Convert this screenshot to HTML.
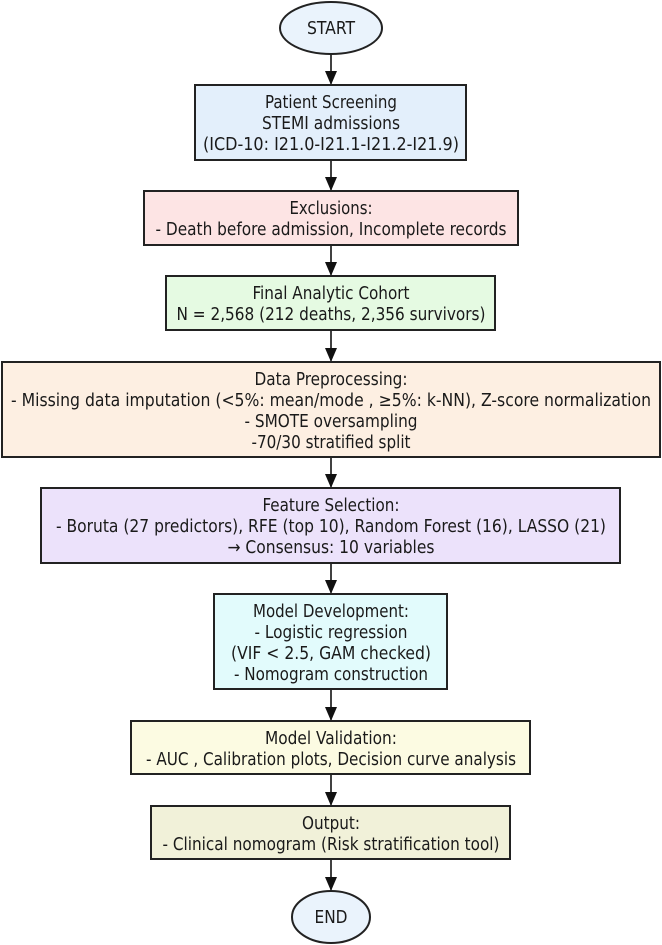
<!DOCTYPE html>
<html><head><meta charset="utf-8"><style>html,body{margin:0;padding:0;background:#fff}svg{display:block}</style></head>
<body>
<svg width="662" height="945" viewBox="0 0 662 945" xmlns="http://www.w3.org/2000/svg" font-family="'DejaVu Sans Condensed','DejaVu Sans','Liberation Sans',sans-serif" font-size="17.5" fill="#1a1a1a" text-anchor="middle">
<defs><marker id="a" markerWidth="12" markerHeight="14" refX="14" refY="6" orient="auto" markerUnits="userSpaceOnUse"><path d="M0,0 L14,6 L0,12 z" fill="#111"/></marker></defs>
<g stroke="#111" stroke-width="1.6">
<line x1="331" y1="54" x2="331" y2="85" marker-end="url(#a)"/>
<line x1="331" y1="160" x2="331" y2="191" marker-end="url(#a)"/>
<line x1="331" y1="245" x2="331" y2="276" marker-end="url(#a)"/>
<line x1="331" y1="330" x2="331" y2="362" marker-end="url(#a)"/>
<line x1="331" y1="457" x2="331" y2="488" marker-end="url(#a)"/>
<line x1="331" y1="563" x2="331" y2="594" marker-end="url(#a)"/>
<line x1="331" y1="689" x2="331" y2="721" marker-end="url(#a)"/>
<line x1="331" y1="774" x2="331" y2="806" marker-end="url(#a)"/>
<line x1="331" y1="859" x2="331" y2="891" marker-end="url(#a)"/>
</g>
<g stroke="#222" stroke-width="2">
<ellipse cx="331" cy="28" rx="51" ry="26" fill="#eaf3fc"/>
<rect x="195" y="85" width="271" height="75" fill="#e3effb"/>
<rect x="144" y="191" width="374" height="54" fill="#fde4e4"/>
<rect x="166" y="276" width="329" height="54" fill="#e5fae2"/>
<rect x="2" y="362" width="658" height="95" fill="#fdefe2"/>
<rect x="41" y="488" width="579" height="75" fill="#ece2fb"/>
<rect x="214" y="594" width="233" height="95" fill="#e2fbfc"/>
<rect x="131" y="721" width="399" height="53" fill="#fcfbe2"/>
<rect x="151" y="806" width="359" height="53" fill="#f1f1d9"/>
<ellipse cx="331" cy="917" rx="39" ry="26" fill="#eaf3fc"/>
</g>
<g>
<text x="331" y="34" textLength="48" lengthAdjust="spacingAndGlyphs">START</text>
<text x="331" y="108" textLength="132" lengthAdjust="spacingAndGlyphs">Patient Screening</text>
<text x="331" y="129" textLength="138" lengthAdjust="spacingAndGlyphs">STEMI admissions</text>
<text x="331" y="150" textLength="256" lengthAdjust="spacingAndGlyphs">(ICD-10: I21.0-I21.1-I21.2-I21.9)</text>
<text x="331" y="214" textLength="83" lengthAdjust="spacingAndGlyphs">Exclusions:</text>
<text x="331" y="235" textLength="351" lengthAdjust="spacingAndGlyphs">- Death before admission, Incomplete records</text>
<text x="331" y="299" textLength="157" lengthAdjust="spacingAndGlyphs">Final Analytic Cohort</text>
<text x="331" y="320" textLength="309" lengthAdjust="spacingAndGlyphs">N = 2,568 (212 deaths, 2,356 survivors)</text>
<text x="331" y="385" textLength="153" lengthAdjust="spacingAndGlyphs">Data Preprocessing:</text>
<text x="331" y="406" textLength="640" lengthAdjust="spacingAndGlyphs">- Missing data imputation  (&lt;5%: mean/mode , ≥5%: k-NN), Z-score normalization</text>
<text x="331" y="427" textLength="173" lengthAdjust="spacingAndGlyphs">- SMOTE oversampling</text>
<text x="331" y="448" textLength="159" lengthAdjust="spacingAndGlyphs">-70/30 stratified split</text>
<text x="331" y="511" textLength="137" lengthAdjust="spacingAndGlyphs">Feature Selection:</text>
<text x="331" y="532" textLength="550" lengthAdjust="spacingAndGlyphs">- Boruta (27 predictors), RFE (top 10), Random Forest (16), LASSO (21)</text>
<text x="331" y="553" textLength="207" lengthAdjust="spacingAndGlyphs">→ Consensus: 10 variables</text>
<text x="331" y="617" textLength="156" lengthAdjust="spacingAndGlyphs">Model Development:</text>
<text x="331" y="638" textLength="153" lengthAdjust="spacingAndGlyphs">- Logistic regression</text>
<text x="331" y="659" textLength="200" lengthAdjust="spacingAndGlyphs">(VIF &lt; 2.5, GAM checked)</text>
<text x="331" y="680" textLength="194" lengthAdjust="spacingAndGlyphs">- Nomogram construction</text>
<text x="331" y="744" textLength="132" lengthAdjust="spacingAndGlyphs">Model Validation:</text>
<text x="331" y="765" textLength="370" lengthAdjust="spacingAndGlyphs">- AUC , Calibration plots, Decision curve analysis</text>
<text x="331" y="829" textLength="58" lengthAdjust="spacingAndGlyphs">Output:</text>
<text x="331" y="850" textLength="337" lengthAdjust="spacingAndGlyphs">- Clinical nomogram (Risk stratification tool)</text>
<text x="331" y="923" textLength="33" lengthAdjust="spacingAndGlyphs">END</text>
</g>
</svg>
</body></html>
